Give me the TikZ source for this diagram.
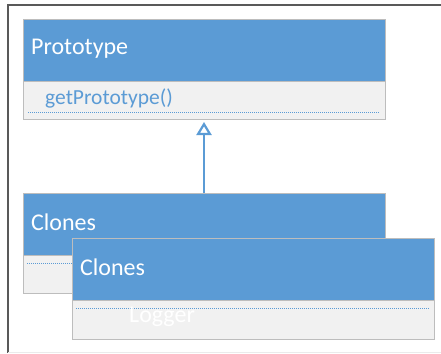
\documentclass[tikz,border=0pt]{standalone}
\usepackage{fontspec}
\setmainfont{Carlito}
\usetikzlibrary{arrows.meta}
\definecolor{hdr}{HTML}{5B9BD5}
\definecolor{bodyc}{HTML}{F1F1F1}
\definecolor{edge}{HTML}{BDBDBD}
\definecolor{frame}{HTML}{595959}
\begin{document}
\begin{tikzpicture}[x=1pt,y=-1pt,
  hdrbox/.style={fill=hdr,draw=edge,line width=1pt},
  bodybox/.style={fill=bodyc,draw=edge,line width=1pt},
  title/.style={anchor=west,text=white,font=\fontsize{24}{26}\selectfont,inner sep=0pt},
  member/.style={anchor=west,font=\fontsize{21.5}{23}\selectfont,inner sep=0pt},
  dotline/.style={draw=hdr,line width=0.9pt,dash pattern=on 1pt off 1pt}]
\useasboundingbox (0,0) rectangle (441,353);
\fill[white] (0,0) rectangle (441,353);
% frame
\draw[frame,line width=2pt] (441,5) -- (8,5) -- (8,353);
\draw[black!8,line width=1pt] (8,352) -- (441,352);
% Prototype
\draw[bodybox] (23,81) rectangle (385,119);
\draw[hdrbox] (23,20) rectangle (385,81);
\node[title] (ptitle) at (31,49) {Prototype};
\node[member,text=hdr] (pget) at (45,98) {getPrototype()};
\draw[dotline] (28,112) -- (380,112);
\coordinate (ptop) at (204,119);
% Clones 1
\draw[bodybox] (23,255) rectangle (385,293);
\draw[hdrbox] (23,193) rectangle (385,255);
\node[title] (c1title) at (31,222) {Clones};
\draw[dotline] (27,263) -- (380,263);
\coordinate (cbot) at (204,193);
% Clones 2
\draw[bodybox] (72,300) rectangle (434,339);
\draw[hdrbox] (72,238) rectangle (434,300);
\node[title] (c2title) at (80,267) {Clones};
\draw[dotline] (76,308) -- (430,308);
\node[member,text=white,font=\fontsize{24}{26}\selectfont] (logger) at (129,317) {Logger};
% inheritance
\draw[hdr,line width=1.5pt,-{Triangle[open,width=15pt,length=13pt,line width=2.2pt]}] (cbot) -- ([yshift=-3pt]ptop);
\end{tikzpicture}
\end{document}
